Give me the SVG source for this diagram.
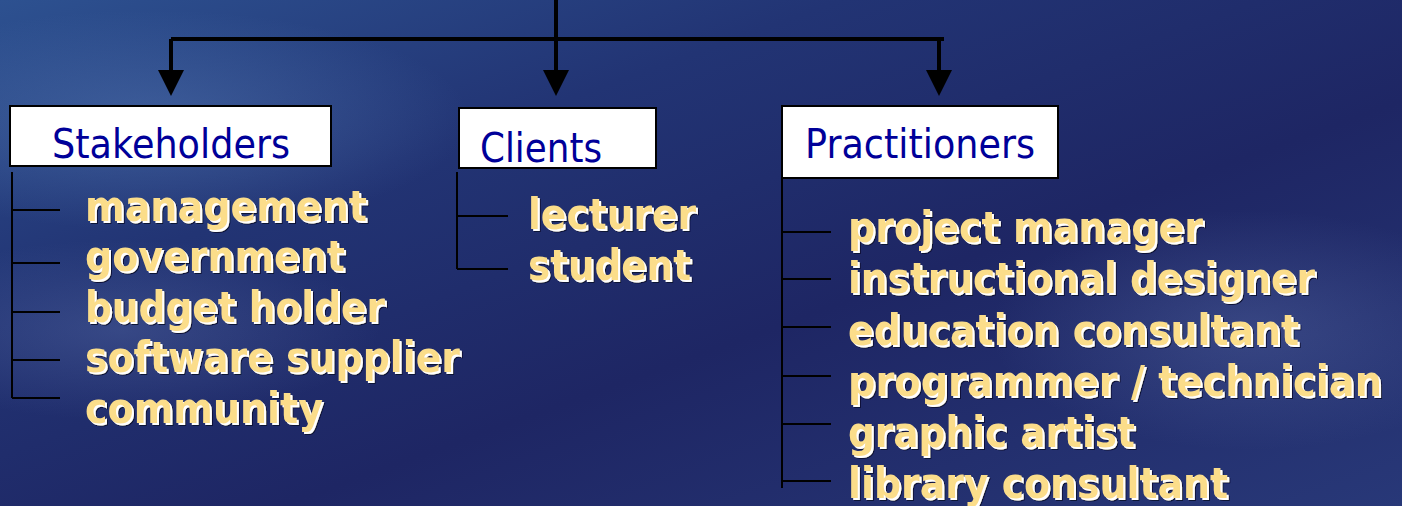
<svg xmlns="http://www.w3.org/2000/svg" width="1402" height="506" viewBox="0 0 1402 506">
<style>
.box{fill:#fff;stroke:#000;stroke-width:2}
.hdr{font-family:"DejaVu Sans","Liberation Sans",sans-serif;font-size:40px;fill:#000099}
.item{font-family:"DejaVu Sans Condensed","DejaVu Sans","Liberation Sans",sans-serif;font-stretch:condensed;font-weight:bold;font-size:42px;fill:#fbdd8a;filter:url(#emb)}
.ln{stroke:#000;stroke-width:4;fill:none}
.br{stroke:#000;stroke-width:2;fill:none}
</style>
<defs>
<linearGradient id="bg" x1="0" y1="0" x2="1" y2="1">
<stop offset="0" stop-color="#2d5190"/>
<stop offset="0.3" stop-color="#223474"/>
<stop offset="0.6" stop-color="#1e2664"/>
<stop offset="1" stop-color="#283878"/>
</linearGradient>
<radialGradient id="hl1" cx="0.5" cy="0.5" r="0.5">
<stop offset="0" stop-color="#5f86c0" stop-opacity="0.4"/>
<stop offset="1" stop-color="#5f86c0" stop-opacity="0"/>
</radialGradient>
<radialGradient id="hl2" cx="0.5" cy="0.5" r="0.5">
<stop offset="0" stop-color="#6a7fb8" stop-opacity="0.3"/>
<stop offset="1" stop-color="#6a7fb8" stop-opacity="0"/>
</radialGradient>
<filter id="emb" x="-1%" y="-10%" width="104%" height="130%">
<feOffset in="SourceAlpha" dx="3" dy="3" result="o2"/>
<feFlood flood-color="#0e1236"/>
<feComposite in2="o2" operator="in" result="dark"/>
<feOffset in="SourceAlpha" dx="1.5" dy="1.5" result="o1"/>
<feFlood flood-color="#ffffff"/>
<feComposite in2="o1" operator="in" result="white"/>
<feMerge><feMergeNode in="dark"/><feMergeNode in="white"/><feMergeNode in="SourceGraphic"/></feMerge>
</filter>
<marker id="ah" viewBox="0 0 26 26" markerWidth="26" markerHeight="26" refX="13" refY="5" orient="0" markerUnits="userSpaceOnUse">
<path d="M0,0 L26,0 L13,26 Z" fill="#000"/>
</marker>
</defs>
<rect width="1402" height="506" fill="url(#bg)"/>
<ellipse cx="150" cy="120" rx="320" ry="110" fill="url(#hl1)"/>
<ellipse cx="120" cy="330" rx="260" ry="90" fill="url(#hl2)"/>
<ellipse cx="1250" cy="330" rx="260" ry="120" fill="url(#hl2)"/>

<g id="connectors">
<path class="ln" d="M171,39 H944"/>
<path class="ln" d="M556,0 V75" marker-end="url(#ah)"/>
<path class="ln" d="M171,39 V75" marker-end="url(#ah)"/>
<path class="ln" d="M939,39 V75" marker-end="url(#ah)"/>
<path class="br" d="M12,172 V398 M12,210 H60 M12,263 H60 M12,312 H60 M12,360 H60 M12,398 H60"/>
<path class="br" d="M457,172 V269 M457,216 H508 M457,269 H508"/>
<path class="br" d="M782,178 V488 M782,232 H831 M782,279 H831 M782,327 H831 M782,376 H831 M782,424 H831 M782,481 H831"/>
</g>

<g id="stakeholders">
<rect class="box" x="10" y="106" width="321" height="60"/>
<text class="hdr" x="52" y="158" textLength="238" lengthAdjust="spacingAndGlyphs">Stakeholders</text>
<text class="item" x="85" y="221" textLength="282" lengthAdjust="spacingAndGlyphs">management</text>
<text class="item" x="85" y="271" textLength="260" lengthAdjust="spacingAndGlyphs">government</text>
<text class="item" x="85" y="322" textLength="300" lengthAdjust="spacingAndGlyphs">budget holder</text>
<text class="item" x="85" y="372" textLength="375" lengthAdjust="spacingAndGlyphs">software supplier</text>
<text class="item" x="85" y="423" textLength="238" lengthAdjust="spacingAndGlyphs">community</text>
</g>

<g id="clients">
<rect class="box" x="459" y="108" width="197" height="60"/>
<text class="hdr" x="480" y="162" textLength="122" lengthAdjust="spacingAndGlyphs">Clients</text>
<text class="item" x="528" y="229" textLength="168" lengthAdjust="spacingAndGlyphs">lecturer</text>
<text class="item" x="528" y="280" textLength="163" lengthAdjust="spacingAndGlyphs">student</text>
</g>

<g id="practitioners">
<rect class="box" x="782" y="106" width="276" height="72"/>
<text class="hdr" x="805" y="158" textLength="230" lengthAdjust="spacingAndGlyphs">Practitioners</text>
<text class="item" x="848" y="242" textLength="355" lengthAdjust="spacingAndGlyphs">project manager</text>
<text class="item" x="848" y="293" textLength="467" lengthAdjust="spacingAndGlyphs">instructional designer</text>
<text class="item" x="848" y="345" textLength="451" lengthAdjust="spacingAndGlyphs">education consultant</text>
<text class="item" x="848" y="396" textLength="534" lengthAdjust="spacingAndGlyphs">programmer / technician</text>
<text class="item" x="848" y="447" textLength="287" lengthAdjust="spacingAndGlyphs">graphic artist</text>
<text class="item" x="848" y="498" textLength="380" lengthAdjust="spacingAndGlyphs">library consultant</text>
</g>
</svg>
